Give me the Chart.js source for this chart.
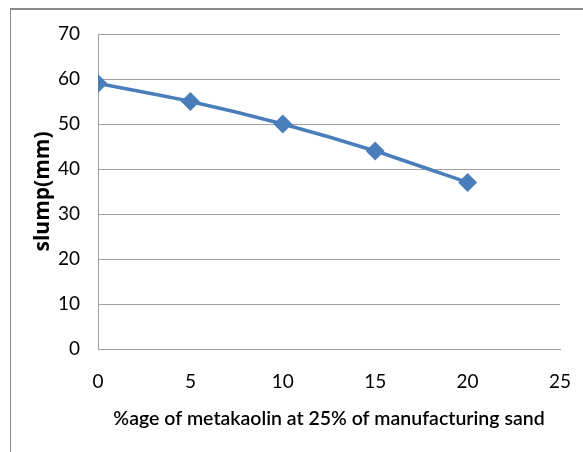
<!DOCTYPE html>
<html>
<head>
<meta charset="utf-8">
<script src="https://cdn.jsdelivr.net/npm/chart.js@4/dist/chart.umd.min.js"></script>
<style>
  html, body { margin: 0; padding: 0; background: #fff; }
  #wrap { position: relative; width: 583px; height: 452px; overflow: hidden; }
  #frame {
    position: absolute; left: 10px; top: 8px; width: 700px; height: 600px;
    border-top: 2px solid #8a8a8a; border-left: 1px solid #8a8a8a;
  }
  canvas { position: absolute; left: 0; top: 0; }
</style>
</head>
<body>
<div id="wrap">
  <div id="frame"></div>
  <canvas id="slumpChart" width="583" height="452"></canvas>
</div>
<script>
// metakaolin content (%) and measured slump (mm)
let pctMetakaolin = [0, 5, 10, 15, 20];
let slumpValues = [59, 55, 50, 44, 37];
let xTicks = [0, 5, 10, 15, 20, 25];
let yTicks = [0, 10, 20, 30, 40, 50, 60, 70];

let points = pctMetakaolin.map(function(p, i) {
    return { x: p, y: slumpValues[i] };
});

let fontFamily = 'Lato, "Open Sans", sans-serif';

let ctx = document.getElementById('slumpChart').getContext('2d');
new Chart(ctx, {
    type: 'line',
    data: {
        datasets: [{
            label: 'slump',
            data: points,
            borderColor: '#4a7ebb',
            backgroundColor: '#4a7ebb',
            borderWidth: 3.5,
            pointStyle: 'rectRot',
            pointRadius: 7,
            pointHoverRadius: 7,
            tension: 0.2,
            fill: false
        }]
    },
    options: {
        responsive: false,
        animation: false,
        layout: { padding: { left: 0, right: 23, top: 34, bottom: 0 } },
        plugins: {
            legend: { display: false },
            tooltip: { enabled: false }
        },
        scales: {
            x: {
                type: 'linear',
                min: 0,
                max: 25,
                afterBuildTicks: function(scale) {
                    scale.ticks = xTicks.map(function(v) { return { value: v }; });
                },
                afterFit: function(scale) {
                    scale.height = 103;
                    scale.paddingLeft = 0;
                    scale.paddingRight = 0;
                },
                grid: { display: false, drawTicks: false },
                border: { display: true, color: '#a0a0a0', width: 1 },
                ticks: {
                    padding: 21,
                    color: '#000',
                    font: { family: fontFamily, size: 19 }
                },
                title: {
                    display: true,
                    text: '%age of metakaolin at 25% of manufacturing sand',
                    color: '#000',
                    font: { family: fontFamily, size: 19.5, weight: '600' },
                    padding: { top: 0, bottom: 22 }
                }
            },
            y: {
                min: 0,
                max: 70,
                afterBuildTicks: function(scale) {
                    scale.ticks = yTicks.map(function(v) { return { value: v }; });
                },
                afterFit: function(scale) {
                    scale.width = 98;
                    scale.paddingTop = 0;
                    scale.paddingBottom = 0;
                },
                grid: { color: '#a0a0a0', lineWidth: 1, drawTicks: false },
                border: { display: true, color: '#a0a0a0', width: 1 },
                ticks: {
                    padding: 18,
                    color: '#000',
                    font: { family: fontFamily, size: 19 }
                },
                title: {
                    display: true,
                    text: 'slump(mm)',
                    color: '#000',
                    font: { family: '"Open Sans", Lato, sans-serif', size: 21, weight: 'bold' },
                    padding: { top: 30, bottom: 0 }
                }
            }
        }
    }
});
</script>
</body>
</html>
